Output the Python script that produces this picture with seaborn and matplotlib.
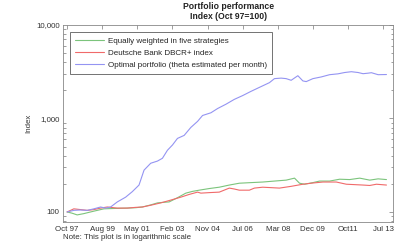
import numpy as np
import pandas as pd
import matplotlib
matplotlib.use('Agg')
import matplotlib.pyplot as plt
import matplotlib.ticker as mticker
import seaborn as sns

# Months since Oct 97 and index values
green_month = [0, 3, 6, 10, 13, 16, 22, 28, 36, 41, 45, 50, 54, 58, 61, 66, 71, 75, 79, 85, 91, 97,
               103, 110, 117, 124, 131, 136, 139, 142, 147, 151, 157, 163, 169, 175, 181, 186, 191]
green_value = [100, 97, 93, 96, 99, 102, 108, 109, 110, 111, 113, 119, 125, 127, 128, 142, 159, 166,
               171, 178, 184, 194, 203, 206, 209, 214, 219, 230, 203, 198, 206, 214, 214, 224, 222,
               230, 219, 226, 222]

red_month = [0, 4, 8, 12, 16, 20, 24, 30, 36, 41, 45, 50, 56, 62, 68, 73, 78, 80, 85, 91, 97, 100,
             103, 109, 112, 117, 122, 127, 134, 141, 147, 153, 161, 167, 172, 177, 181, 185, 191]
red_value = [100, 108, 106, 104, 106, 110, 113, 110, 110, 112, 113, 118, 125, 134, 144, 154, 163,
             159, 161, 163, 180, 176, 171, 171, 180, 184, 182, 180, 188, 198, 204, 209, 209, 198,
             196, 194, 192, 198, 194]

blue_month = [0, 4, 8, 12, 16, 20, 23, 26, 30, 35, 39, 43, 46, 50, 54, 57, 60, 63, 66, 70, 74, 78,
              81, 86, 90, 95, 100, 105, 110, 115, 121, 124, 128, 131, 134, 138, 141, 143, 147, 152,
              157, 162, 166, 170, 174, 177, 180, 182, 186, 191]
blue_value = [100, 104, 105, 104, 108, 113, 110, 113, 128, 144, 165, 194, 280, 332, 350, 375, 457,
              520, 612, 659, 802, 930, 1076, 1150, 1277, 1420, 1600, 1757, 1950, 2150, 2415, 2666,
              2700, 2666, 2560, 2865, 2520, 2478, 2666, 2780, 2938, 3000, 3100, 3162, 3100, 3011,
              3050, 3085, 2938, 2950]

tick_labels = ['Oct 97', 'Aug 99', 'May 01', 'Feb 03', 'Nov 04', 'Jul 06', 'Mar 08', 'Dec 09',
               'Oct11', 'Jul 13']
series_names = ['Equally weighted in five strategies', 'Deutsche Bank DBCR+ index',
                'Optimal portfolio (theta estimated per month)']

sns.set_style('white')
plt.rcParams['font.family'] = ['Liberation Sans', 'DejaVu Sans']

fig = plt.figure(figsize=(4.02, 2.47), dpi=100)
ax = fig.add_axes([0.157, 0.101, 0.821, 0.798])

sns.lineplot(x=green_month, y=green_value, ax=ax, color='#7cc47c', lw=0.8, label=series_names[0])
sns.lineplot(x=red_month, y=red_value, ax=ax, color='#f06a6a', lw=0.8, label=series_names[1])
sns.lineplot(x=blue_month, y=blue_value, ax=ax, color='#9494f2', lw=0.8, label=series_names[2])

ax.set_yscale('log')
ax.set_ylim(78, 10000)
ax.set_xlim(-2.4, 195)
ax.yaxis.set_major_locator(mticker.FixedLocator([100, 1000, 10000]))
ax.yaxis.set_major_formatter(mticker.FuncFormatter(lambda v, p: f'{int(v):,}'))
ax.yaxis.set_minor_locator(mticker.LogLocator(base=10, subs=np.arange(2, 10)))
ax.yaxis.set_minor_formatter(mticker.NullFormatter())
ax.set_xticks(np.arange(0, 190, 21))
ax.set_xticklabels(tick_labels)

ax.tick_params(axis='both', which='both', direction='in', top=True, right=True,
               labelsize=5.7, colors='#333333', pad=2.5)
ax.tick_params(which='major', length=3, width=0.5, color='#777777')
ax.tick_params(which='minor', length=1.8, width=0.5, color='#777777', left=True, right=True)
for s in ax.spines.values():
    s.set_color('#888888')
    s.set_linewidth(0.6)

ax.set_ylabel('Index', fontsize=5.7, color='#333333', labelpad=3)
ax.set_xlabel('')
ax.set_title('Portfolio performance\nIndex (Oct 97=100)', fontsize=6.2, fontweight='bold',
             color='#222222', pad=4, linespacing=1.25)

leg = ax.legend(loc='upper left', bbox_to_anchor=(0.021, 0.962), borderaxespad=0, fontsize=5.8,
                frameon=True, fancybox=False, handlelength=3.6, borderpad=0.6, labelspacing=0.55,
                handletextpad=0.5)
leg.get_frame().set_edgecolor('#333333')
leg.get_frame().set_linewidth(0.6)

fig.text(0.157, 0.032, 'Note: This plot is in logarithmic scale', fontsize=5.7, color='#333333')

fig.savefig('out.png', dpi=100)
